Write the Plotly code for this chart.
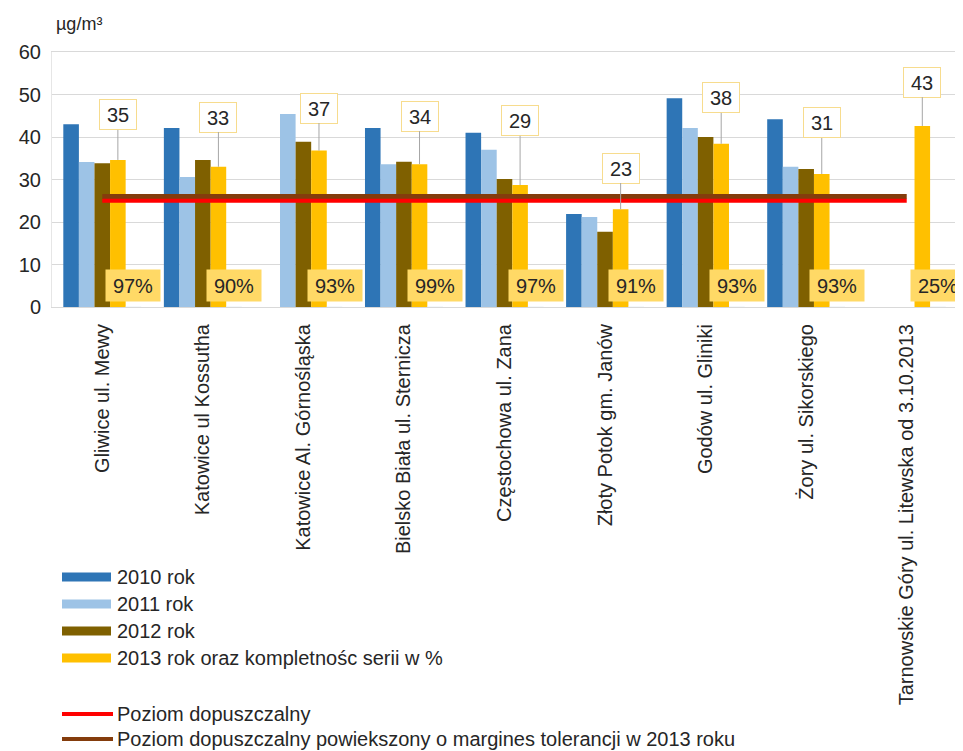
import plotly.graph_objects as go

categories = [
    "Gliwice ul. Mewy",
    "Katowice ul Kossutha",
    "Katowice Al. Górnośląska",
    "Bielsko Biała ul. Sternicza",
    "Częstochowa ul. Zana",
    "Złoty Potok gm. Janów",
    "Godów ul. Gliniki",
    "Żory ul. Sikorskiego",
    "Tarnowskie Góry ul. Litewska od 3.10.2013",
]
y2010 = [43.0, 42.1, None, 42.1, 41.0, 21.9, 49.1, 44.2, None]
y2011 = [34.1, 30.6, 45.4, 33.6, 37.0, 21.2, 42.1, 33.0, None]
y2012 = [33.8, 34.6, 38.9, 34.2, 30.1, 17.7, 40.0, 32.5, None]
y2013 = [34.6, 33.0, 36.8, 33.6, 28.7, 23.0, 38.4, 31.3, 42.6]
completeness = [97, 90, 93, 99, 97, 91, 93, 93, 25]
limit_value = 25
limit_with_margin = 26
y_ticks = [0, 10, 20, 30, 40, 50, 60]

series_names = ["2010 rok", "2011 rok", "2012 rok", "2013 rok oraz kompletnośc serii w %"]
line_names = ["Poziom dopuszczalny",
              "Poziom dopuszczalny powiekszony o margines tolerancji w 2013 roku"]

# layout / style (not data)
colors = ["#2E75B6", "#9DC3E6", "#7F6000", "#FFC000"]
red = "#FF0000"
brown = "#843C0C"
label_y = [45.2, 44.7, 46.8, 44.9, 43.8, 32.7, 49.2, 43.3, 52.9]
FONT = "Liberation Sans, Arial, sans-serif"
TXT = "#262626"

OFF = 8  # default body margin of the page
W, H = 963 - OFF, 751 - OFF
L, T = 52 - OFF, 52 - OFF
PW, PH = 905, 255
R = W - L - PW
B = H - T - PH


def px_x(x):
    return (x - OFF - L) / PW


def px_y(y):
    return (T + PH - (y - OFF)) / PH


fig = go.Figure()
for name, vals, c in zip(series_names, [y2010, y2011, y2012, y2013], colors):
    fig.add_trace(go.Bar(x=categories, y=vals, name=name, marker_color=c,
                         marker_line_width=0, showlegend=False))
# empty slot (completeness series position)
fig.add_trace(go.Bar(x=categories, y=[0] * len(categories), marker_color="rgba(0,0,0,0)",
                     showlegend=False, hoverinfo="skip"))

fig.add_trace(go.Scatter(x=[categories[0], categories[-1]], y=[limit_with_margin] * 2,
                         mode="lines", line=dict(color=brown, width=5),
                         name=line_names[1], showlegend=False))
fig.add_trace(go.Scatter(x=[categories[0], categories[-1]], y=[limit_value] * 2,
                         mode="lines", line=dict(color=red, width=4),
                         name=line_names[0], showlegend=False))

group_w = 0.775
bar_w = group_w / 5
annotations = []
for i, (v, c, ly) in enumerate(zip(y2013, completeness, label_y)):
    xb = i - group_w / 2 + 3.5 * bar_w
    annotations.append(dict(
        x=xb, y=v, xref="x", yref="y", ax=xb, ay=ly, axref="x", ayref="y",
        text=f"{round(v)}", showarrow=True, arrowhead=0, arrowwidth=1,
        arrowcolor="#A6A6A6", standoff=0, startstandoff=0,
        bgcolor="white", bordercolor="#F7DC8E", borderwidth=1, borderpad=3,
        width=30, height=23, font=dict(family=FONT, size=20, color=TXT)))
    xc = i - group_w / 2 + 4.5 * bar_w
    annotations.append(dict(
        x=xc, y=5.0, xref="x", yref="y", text=f"{c}%", showarrow=False,
        bgcolor="#FFD966", borderpad=4, width=46, height=23,
        font=dict(family=FONT, size=20, color=TXT)))

annotations.append(dict(x=px_x(54), y=px_y(24), xref="paper", yref="paper",
                        text="µg/m³", showarrow=False, xanchor="left", yanchor="middle",
                        font=dict(family=FONT, size=18, color=TXT)))

# custom legend
shapes = []
legend_rows = [577, 604, 631, 658]
for name, c, yy in zip(series_names, colors, legend_rows):
    shapes.append(dict(type="rect", xref="paper", yref="paper",
                       x0=px_x(62), x1=px_x(111), y0=px_y(yy - 4.5), y1=px_y(yy + 4.5),
                       fillcolor=c, line=dict(width=0)))
    annotations.append(dict(x=px_x(115), y=px_y(yy), xref="paper", yref="paper",
                            text=name, showarrow=False, xanchor="left", yanchor="middle",
                            font=dict(family=FONT, size=20, color=TXT)))
for name, c, yy in zip(line_names, [red, brown], [714, 739]):
    shapes.append(dict(type="line", xref="paper", yref="paper",
                       x0=px_x(62), x1=px_x(113), y0=px_y(yy), y1=px_y(yy),
                       line=dict(color=c, width=4)))
    annotations.append(dict(x=px_x(115), y=px_y(yy), xref="paper", yref="paper",
                            text=name, showarrow=False, xanchor="left", yanchor="middle",
                            font=dict(family=FONT, size=20, color=TXT)))

fig.update_layout(
    width=W, height=H,
    margin=dict(l=L, r=R, t=T, b=B, pad=0),
    paper_bgcolor="white", plot_bgcolor="white",
    barmode="group", bargap=1 - group_w, bargroupgap=0,
    font=dict(family=FONT, size=20, color=TXT),
    annotations=annotations, shapes=shapes,
    showlegend=False,
)
fig.update_xaxes(type="category", tickangle=-90, showgrid=False,
                 showline=True, linecolor="#D9D9D9", linewidth=1, mirror=True,
                 ticks="", ticklabelstandoff=8,
                 tickfont=dict(family=FONT, size=20, color=TXT),
                 range=[-0.5, len(categories) - 0.5], fixedrange=True)
fig.update_yaxes(range=[0, 60], tickvals=y_ticks, showgrid=True, gridcolor="#D9D9D9",
                 gridwidth=1, zeroline=False, showline=True, linecolor="#E6E6E6",
                 mirror=True, ticks="", ticklabelstandoff=6,
                 tickfont=dict(family=FONT, size=20, color=TXT), fixedrange=True)

fig.write_html("out.html")
